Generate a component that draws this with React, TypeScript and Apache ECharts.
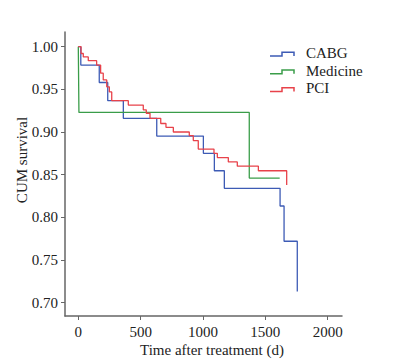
import React, { useEffect, useRef } from "react";
import * as echarts from "echarts";

const seriesNames = ["CABG", "Medicine", "PCI"];
const seriesColors = ["#3d5bb5", "#3a9d49", "#e8424a"];

const cabgDays = [0, 20, 168, 236, 361, 629, 1003, 1091, 1171, 1618, 1650, 1756];
const cabgSurv = [1, 0.9785, 0.958, 0.9367, 0.916, 0.8953, 0.875, 0.8546, 0.834, 0.8133, 0.772, 0.713];

const medDays = [0, 5, 1371, 1615];
const medSurv = [1, 0.923, 0.846, 0.846];

const pciDays = [0, 22, 40, 80, 147, 179, 200, 228, 249, 268, 401, 521, 545, 575, 661, 703, 762, 890, 922, 962, 1088, 1115, 1203, 1275, 1444, 1671];
const pciSurv = [1, 0.992, 0.988, 0.9836, 0.9785, 0.969, 0.961, 0.953, 0.947, 0.9367, 0.9316, 0.926, 0.922, 0.916, 0.91, 0.9055, 0.9, 0.8957, 0.89, 0.88, 0.875, 0.87, 0.865, 0.86, 0.8546, 0.838];

const xTicks = [0, 500, 1000, 1500, 2000];
const yTicks = [0.7, 0.75, 0.8, 0.85, 0.9, 0.95, 1.0];

const xTitle = "Time after treatment (d)";
const yTitle = "CUM survival";

const FONT = "'Liberation Serif', 'Times New Roman', serif";
const AXIS_COLOR = "#666";
const TEXT_COLOR = "#222";

function zip(xs: number[], ys: number[]) {
  return xs.map((x, i) => [x, ys[i]]);
}

export default function App() {
  const ref = useRef<HTMLDivElement>(null);
  useEffect(() => {
    document.body.style.margin = "0";
    const chart = echarts.init(ref.current!, null, { renderer: "svg" });
    const dataSets = [zip(cabgDays, cabgSurv), zip(medDays, medSurv), zip(pciDays, pciSurv)];
    const legendTop = 52.7;
    const legendStep = 17.8;
    const legendGraphics: any[] = [];
    seriesNames.forEach((name, i) => {
      const cy = legendTop + i * legendStep;
      legendGraphics.push({
        type: "polyline",
        shape: {
          points: [
            [270, cy + 3.2],
            [282, cy + 3.2],
            [282, cy - 0.5],
            [294, cy - 0.5],
            [294, cy + 3.2],
          ],
        },
        style: { stroke: seriesColors[i], lineWidth: 1.5, fill: "none" },
      });
      legendGraphics.push({
        type: "text",
        x: 306,
        y: cy,
        style: {
          text: name,
          fontSize: 15,
          fontFamily: FONT,
          fill: TEXT_COLOR,
          align: "left",
          verticalAlign: "middle",
        },
      });
    });
    chart.setOption({
      animation: false,
      textStyle: { fontFamily: FONT },
      grid: { left: 65, right: 60, top: 32, bottom: 48 },
      xAxis: {
        type: "value",
        min: -106.7,
        max: 2114.6,
        axisLine: { show: true, onZero: false, lineStyle: { color: AXIS_COLOR, width: 1.5 } },
        axisTick: { show: true, length: 4, customValues: xTicks, lineStyle: { color: AXIS_COLOR, width: 1 } },
        axisLabel: {
          customValues: xTicks,
          fontSize: 15,
          color: TEXT_COLOR,
          margin: 8,
          fontFamily: FONT,
          formatter: (v: number) => String(Math.round(v)),
        },
        splitLine: { show: false },
      },
      yAxis: {
        type: "value",
        min: 0.6844,
        max: 1.0172,
        axisLine: { show: true, onZero: false, lineStyle: { color: AXIS_COLOR, width: 1.5 } },
        axisTick: { show: true, length: 4, customValues: yTicks, lineStyle: { color: AXIS_COLOR, width: 1 } },
        axisLabel: {
          customValues: yTicks,
          fontSize: 15,
          color: TEXT_COLOR,
          margin: 7,
          fontFamily: FONT,
          formatter: (v: number) => v.toFixed(2),
        },
        splitLine: { show: false },
      },
      graphic: [
        {
          type: "text",
          x: 22,
          y: 160,
          rotation: Math.PI / 2,
          style: {
            text: yTitle,
            fontSize: 15,
            fontFamily: FONT,
            fill: TEXT_COLOR,
            align: "center",
            verticalAlign: "middle",
          },
        },
        {
          type: "text",
          x: 212,
          y: 350,
          style: {
            text: xTitle,
            fontSize: 15,
            fontFamily: FONT,
            fill: TEXT_COLOR,
            align: "center",
            verticalAlign: "middle",
          },
        },
        ...legendGraphics,
      ],
      series: seriesNames.map((name, i) => ({
        name,
        type: "line",
        step: "end",
        data: dataSets[i],
        showSymbol: false,
        symbol: "none",
        lineStyle: { color: seriesColors[i], width: 1.3 },
        itemStyle: { color: seriesColors[i] },
      })),
    });
    return () => chart.dispose();
  }, []);
  return <div ref={ref} style={{ width: 402, height: 364 }} />;
}
